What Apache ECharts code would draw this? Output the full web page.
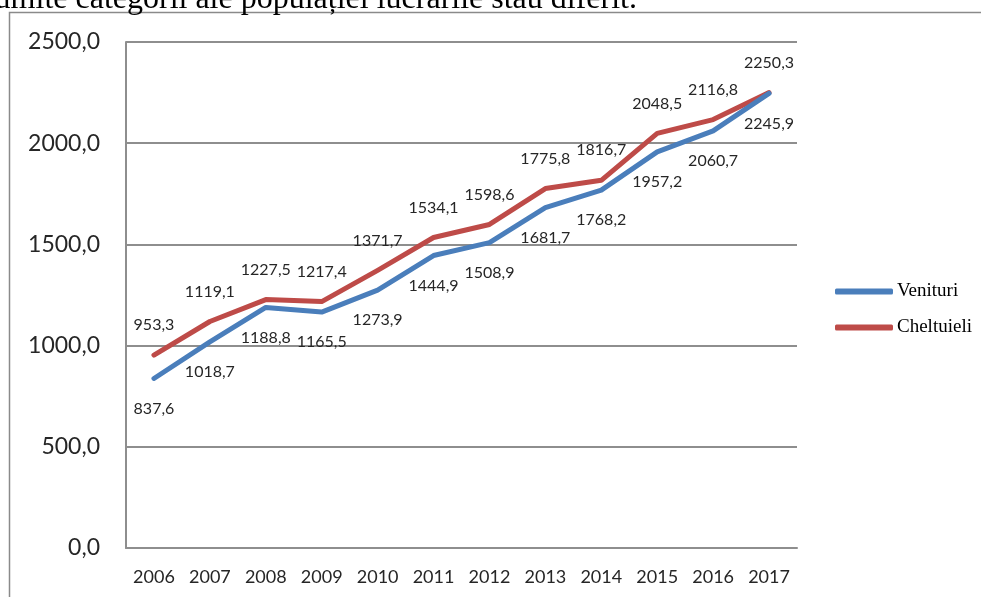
<!DOCTYPE html>
<html>
<head>
<meta charset="utf-8">
<script src="https://cdn.jsdelivr.net/npm/echarts@6/dist/echarts.min.js"></script>
<style>
html,body{margin:0;padding:0;background:#fff;}
#chart{width:981px;height:597px;}
</style>
</head>
<body>
<div id="chart"></div>
<script>
var years = ['2006','2007','2008','2009','2010','2011','2012','2013','2014','2015','2016','2017'];
var venituri = [837.6, 1018.7, 1188.8, 1165.5, 1273.9, 1444.9, 1508.9, 1681.7, 1768.2, 1957.2, 2060.7, 2245.9];
var cheltuieli = [953.3, 1119.1, 1227.5, 1217.4, 1371.7, 1534.1, 1598.6, 1775.8, 1816.7, 2048.5, 2116.8, 2250.3];
var seriesNames = ['Venituri', 'Cheltuieli'];
var headerText = 'anumite categorii ale populației lucrările stau diferit.';

function fmt(v) { return Number(v).toFixed(1).replace('.', ','); }

var chart = echarts.init(document.getElementById('chart'));
var gridColor = '#8e8e8e';
var textColor = '#262626';
var labelFont = 'Lato';
var blue = '#4a7ebb';
var red = '#be4b48';

chart.setOption({
  animation: false,
  backgroundColor: '#fff',
  graphic: [
    {
      type: 'rect',
      shape: { x: 9.5, y: 12.5, width: 1100, height: 700 },
      style: { fill: 'none', stroke: '#8a8a8a', lineWidth: 1.5 },
      silent: true
    },
    {
      type: 'text',
      x: 637, y: 0,
      style: {
        text: headerText,
        font: '32px "Liberation Serif"',
        fill: '#000',
        align: 'right',
        verticalAlign: 'middle'
      },
      silent: true
    }
  ],
  legend: {
    orient: 'vertical',
    left: 835,
    top: 282,
    padding: 0,
    itemWidth: 58,
    itemHeight: 6,
    itemGap: 17,
    icon: 'roundRect',
    data: seriesNames,
    textStyle: { fontFamily: 'Liberation Serif', fontSize: 19, color: '#000', padding: [0, 0, 0, -1] }
  },
  grid: { left: 126, right: 184, top: 42, bottom: 49, containLabel: false },
  xAxis: {
    type: 'category',
    data: years,
    boundaryGap: true,
    axisLine: { show: true, lineStyle: { color: gridColor, width: 2 } },
    axisTick: { show: false },
    axisLabel: { fontFamily: labelFont, fontSize: 18, color: textColor, margin: 20 }
  },
  yAxis: {
    type: 'value',
    min: 0, max: 2500, interval: 500,
    axisLine: { show: true, lineStyle: { color: gridColor, width: 2 } },
    axisTick: { show: false },
    splitLine: { show: true, lineStyle: { color: gridColor, width: 2 } },
    axisLabel: { fontFamily: labelFont, fontSize: 23, color: textColor, margin: 26, formatter: fmt }
  },
  series: [
    {
      name: seriesNames[0],
      type: 'line',
      data: venituri,
      symbol: 'circle',
      symbolSize: 2,
      showSymbol: true,
      itemStyle: { color: blue },
      color: blue,
      lineStyle: { width: 5, color: blue, cap: 'round', join: 'round' },
      label: { show: true, position: 'bottom', distance: 21, formatter: function (p) { return fmt(p.value); },
               fontFamily: labelFont, fontSize: 16, color: textColor },
      z: 3
    },
    {
      name: seriesNames[1],
      type: 'line',
      data: cheltuieli,
      symbol: 'circle',
      symbolSize: 2,
      showSymbol: true,
      itemStyle: { color: red },
      color: red,
      lineStyle: { width: 5, color: red, cap: 'round', join: 'round' },
      label: { show: true, position: 'top', distance: 21, formatter: function (p) { return fmt(p.value); },
               fontFamily: labelFont, fontSize: 16, color: textColor },
      z: 2
    }
  ]
});
</script>
</body>
</html>
